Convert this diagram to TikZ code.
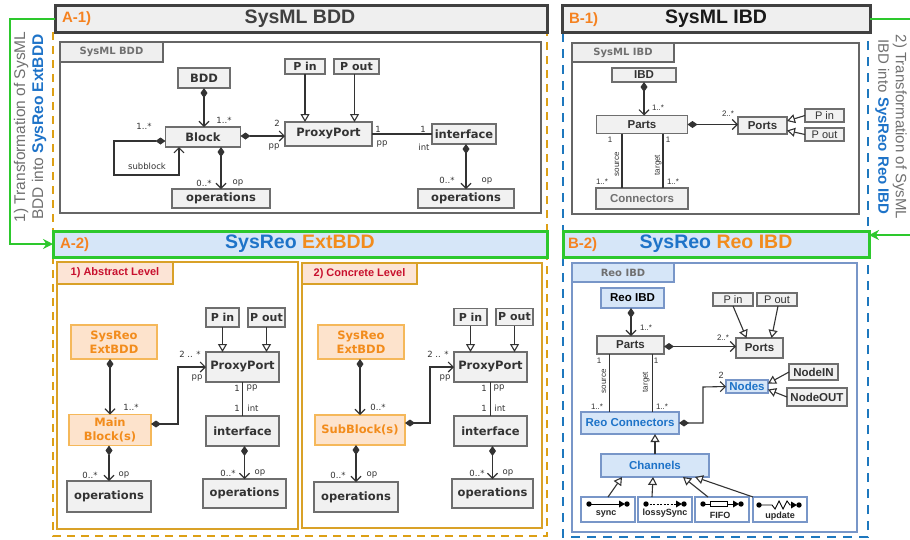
\documentclass[tikz,border=0pt]{standalone}
\usepackage{fontspec}
\setmainfont{Liberation Sans}
\newfontfamily\dv{DejaVu Sans}
\usetikzlibrary{arrows.meta}
\definecolor{orT}{HTML}{F58220}
\definecolor{blT}{HTML}{1E73C8}
\definecolor{grn}{HTML}{2DC82D}
\definecolor{hdrB}{HTML}{404040}
\definecolor{hdrF}{HTML}{EFEFEF}
\definecolor{frG}{HTML}{666666}
\definecolor{bxB}{HTML}{6E6E6E}
\definecolor{bxF}{HTML}{F1F1F1}
\definecolor{dashO}{HTML}{DDA015}
\definecolor{frO}{HTML}{D9A128}
\definecolor{dashB}{HTML}{1E78BE}
\definecolor{lb}{HTML}{D6E6F8}
\definecolor{bb}{HTML}{7896C8}
\definecolor{pF}{HTML}{FDE3CC}
\definecolor{pB}{HTML}{F5B85A}
\definecolor{oT}{HTML}{F28C1C}
\definecolor{tabP}{HTML}{FCE4D6}
\definecolor{redT}{HTML}{C8102E}
\definecolor{txt}{HTML}{333333}
\definecolor{gT}{HTML}{707070}
\begin{document}
\begin{tikzpicture}[x=1pt,y=-1pt,
  every node/.style={inner sep=0pt, outer sep=0pt},
  hdr/.style={draw=hdrB, fill=hdrF, line width=3pt},
  hdrg/.style={draw=grn, fill=lb, line width=3pt},
  frame/.style={draw=frG, line width=2.5pt},
  tabg/.style={draw=frG, fill=hdrF, line width=2.5pt, text=gT, font=\dv\bfseries\fontsize{10}{12}\selectfont},
  frameo/.style={draw=frO, line width=2.5pt},
  tabo/.style={draw=frO, fill=tabP, line width=2.5pt, text=redT, font=\bfseries\fontsize{11}{13}\selectfont},
  frameb/.style={draw=bb, line width=2.5pt},
  tabb/.style={draw=bb, fill=lb, line width=2.5pt, text=gT, font=\dv\bfseries\fontsize{10}{12}\selectfont},
  bx/.style={draw=bxB, fill=bxF, line width=1.2pt, text=txt, font=\dv\bfseries\fontsize{11.5}{14.5}\selectfont, align=center},
  bxs/.style={bx, font=\dv\bfseries\fontsize{11}{13}\selectfont},
  ob/.style={bx, draw=pB, fill=pF, text=oT},
  ib/.style={draw=bxB, fill=bxF, line width=1.2pt, text=txt, font=\bfseries\fontsize{11.5}{13}\selectfont},
  ibr/.style={ib, font=\fontsize{11}{13}\selectfont},
  ibb/.style={ib, draw=bb, fill=lb, text=blT},
  chb/.style={draw=bb, fill=white, line width=1.2pt},
  chl/.style={text=black!85, font=\bfseries\fontsize{9}{10}\selectfont},
  lab/.style={font=\dv\fontsize{8.5}{10}\selectfont, text=txt},
  labs/.style={font=\fontsize{8}{9}\selectfont, text=txt},
  ln/.style={draw=txt, line width=1.1pt},
  comp/.style={draw=txt, line width=1.1pt, {Diamond[length=10pt,width=7pt]}-{Straight Barb[length=5pt,width=10pt]}},
  gen/.style={draw=txt, line width=1.1pt, -{Triangle[open,fill=white,length=8pt,width=9pt]}},
  garrow/.style={draw=grn, line width=2pt, -{Stealth[length=10pt,width=10pt]}},
  dsho/.style={draw=dashO, line width=2.5pt, dash pattern=on 8pt off 6pt},
  dshb/.style={draw=dashB, line width=2.5pt, dash pattern=on 9pt off 7pt}
]
\useasboundingbox (0,0) rectangle (910,539);

% dashed regions
\draw[dsho] (53,32) -- (53,536) -- (547,536) -- (547,32);
\draw[dshb] (563,33) -- (563,537) -- (868,537) -- (868,33);

% ===== headers =====
\node[hdr, minimum width=492pt, minimum height=27pt] (hA1) at (301,18.5) {};
\node[anchor=west, text=orT, font=\bfseries\fontsize{15}{18}\selectfont] (lA1) at (62,19) {A-1)};
\node[text=hdrB, font=\bfseries\fontsize{19.5}{22}\selectfont] (tA1) at (300,19) {SysML BDD};

\node[hdr, minimum width=308pt, minimum height=27pt] (hB1) at (716,18.5) {};
\node[anchor=west, text=orT, font=\bfseries\fontsize{15}{18}\selectfont] (lB1) at (569,20) {B-1)};
\node[text=black!90, font=\bfseries\fontsize{19.5}{22}\selectfont] (tB1) at (716,19) {SysML IBD};

\node[hdrg, minimum width=494pt, minimum height=26pt] (hA2) at (300,244) {};
\node[anchor=west, text=orT, font=\bfseries\fontsize{15}{18}\selectfont] (lA2) at (60,244.5) {A-2)};
\node[font=\bfseries\fontsize{19.5}{22}\selectfont] (tA2) at (300,244) {\textcolor{blT}{SysReo} \textcolor{oT}{ExtBDD}};

\node[hdrg, minimum width=306pt, minimum height=26pt] (hB2) at (716,244) {};
\node[anchor=west, text=orT, font=\bfseries\fontsize{15}{18}\selectfont] (lB2) at (568,245) {B-2)};
\node[font=\bfseries\fontsize{19.5}{22}\selectfont] (tB2) at (716,244) {\textcolor{blT}{SysReo} \textcolor{oT}{Reo IBD}};

% green arrows and side texts
\draw[garrow] (hA1.west) -- (10,18.5) -- (10,244) -- (hA2.west);
\draw[garrow] (hB1.east) -- (914,18.5) -- (914,235) -- ([yshift=9pt]hB2.east);
\node[rotate=90, align=center, text=gT, font=\fontsize{15.5}{18}\selectfont] (sideA) at (30,127)
  {1) Transformation of SysML\\BDD into \textcolor{blT}{\bfseries SysReo ExtBDD}};
\node[rotate=-90, align=center, text=gT, font=\fontsize{15}{17.5}\selectfont] (sideB) at (891,127)
  {2) Transformation of SysML\\IBD into \textcolor{blT}{\bfseries SysReo Reo IBD}};

% ===== A-1 : SysML BDD =====
\node[frame, minimum width=481pt, minimum height=171pt] (frA1) at (300.5,127.5) {};
\node[tabg, minimum width=103pt, minimum height=20pt] (tabA1) at (111.5,52) {SysML BDD};

\node[bx, minimum width=52pt, minimum height=20pt] (bdd) at (204,78) {BDD};
\node[bx, minimum width=75pt, minimum height=20pt] (block) at (203,137) {Block};
\node[bx, minimum width=98pt, minimum height=19pt] (opsa) at (221,198.5) {operations};
\node[bxs, minimum width=40pt, minimum height=15pt] (pin1) at (305,66.5) {P in};
\node[bxs, minimum width=45pt, minimum height=15pt] (pout1) at (356.5,66.5) {P out};
\node[bx, minimum width=87pt, minimum height=24pt] (pp1) at (328.5,134) {ProxyPort};
\node[bx, minimum width=64pt, minimum height=20pt] (intf1) at (464,134) {interface};
\node[bx, minimum width=96pt, minimum height=19pt] (opsb) at (466,198.5) {operations};

\draw[comp] (bdd.south) -- (bdd.south |- block.north);
\draw[comp] ([yshift=1pt]block.east) -- ([yshift=1pt]block.east -| pp1.west);
\draw[comp] (opsa.north |- block.south) -- (opsa.north);
\draw[comp] ([yshift=-4pt]block.west) -| (114,175) -| ([xshift=-24pt]block.south);
\draw[gen] (pin1.south) -- (pin1.south |- pp1.north);
\draw[gen] ([xshift=-2pt]pout1.south) -- ([xshift=-2pt]pout1.south |- pp1.north);
\draw[ln] (pp1.east) -- (intf1.west);
\draw[comp] (opsb.north |- intf1.south) -- (opsb.north);

\node[lab] (l1) at (224,120) {1..*};
\node[lab] (l2) at (144,126) {1..*};
\node[lab] (l3) at (147,166) {subblock};
\node[lab] (l4) at (204,183) {0..*};
\node[lab] (l5) at (238,183) {op};
\node[lab] (l6) at (277,123) {2};
\node[lab] (l7) at (274,147) {pp};
\node[lab] (l8) at (378,129) {1};
\node[lab] (l9) at (382,144) {pp};
\node[lab] (l10) at (423,129) {1};
\node[lab] (l11) at (424,147) {int};
\node[lab] (l12) at (447,180) {0..*};
\node[lab] (l13) at (487,181) {op};

% ===== B-1 : SysML IBD =====
\node[frame, minimum width=287pt, minimum height=171pt] (frB1) at (715.5,128.5) {};
\node[tabg, minimum width=102pt, minimum height=19pt] (tabB1) at (623,52.5) {SysML IBD};

\node[ib, minimum width=64pt, minimum height=14pt] (ibd) at (644,75) {IBD};
\node[ib, minimum width=91pt, minimum height=18pt] (parts1) at (642,124.5) {Parts};
\node[ib, minimum width=49pt, minimum height=17pt] (ports1) at (762.5,125.5) {Ports};
\node[ibr, minimum width=39pt, minimum height=13pt] (pin2) at (824.5,115.5) {P in};
\node[ibr, minimum width=39pt, minimum height=13pt] (pout2) at (824.5,134.5) {P out};
\node[ib, text=gT, minimum width=92pt, minimum height=21pt] (conn1) at (642,198.5) {Connectors};

\draw[comp] (ibd.south) -- (ibd.south |- parts1.north);
\draw[comp] (parts1.east) -- (parts1.east -| ports1.west);
\draw[gen] (pin2.west) -- ([yshift=4.5pt]ports1.east);
\draw[gen] (pout2.west) -- ([yshift=-5pt]ports1.east);
\draw[ln] ([xshift=-20pt]parts1.south) -- ([xshift=-20pt]parts1.south |- conn1.north);
\draw[ln] ([xshift=21pt]parts1.south) -- ([xshift=21pt]parts1.south |- conn1.north);

\node[labs] (m1) at (658,108) {1..*};
\node[labs] (m2) at (728,114) {2..*};
\node[labs] (m3) at (610,140) {1};
\node[labs] (m4) at (668,140) {1};
\node[labs] (m5) at (602,182) {1..*};
\node[labs] (m6) at (673,182) {1..*};
\node[labs, rotate=90] (m7) at (617,164) {source};
\node[labs, rotate=90] (m8) at (658,165) {target};

% ===== A-2 : Abstract level =====
\node[frameo, minimum width=241pt, minimum height=267pt] (frAbs) at (177.5,395.5) {};
\node[tabo, minimum width=116pt, minimum height=22pt] (tabAbs) at (115,273) {1) Abstract Level};

\node[bxs, minimum width=33pt, minimum height=19pt] (pina) at (222.5,317.5) {P in};
\node[bxs, minimum width=37pt, minimum height=19pt] (pouta) at (266.5,317.5) {P out};
\node[bx, minimum width=73pt, minimum height=30pt] (ppa) at (242.5,367) {ProxyPort};
\node[ob, minimum width=86pt, minimum height=34pt] (exta) at (114,342) {SysReo\\ExtBDD};
\node[ob, minimum width=82pt, minimum height=31pt] (maina) at (110,430) {Main\\Block(s)};
\node[bx, minimum width=84pt, minimum height=31pt] (opsa2) at (109,496.5) {operations};
\node[bx, minimum width=73pt, minimum height=30pt] (intfa) at (242.5,431) {interface};
\node[bx, minimum width=83pt, minimum height=29pt] (opsa3) at (244.5,493.5) {operations};

\draw[comp] (exta.south -| maina.north) -- (maina.north);
\draw[comp] ([yshift=6pt]maina.east) -| (178,367) -- (ppa.west);
\draw[comp] (opsa2.north |- maina.south) -- (opsa2.north);
\draw[ln] (ppa.south) -- (intfa.north);
\draw[comp] (opsa3.north |- intfa.south) -- (opsa3.north);
\draw[gen] (pina.south) -- (pina.south |- ppa.north);
\draw[gen] (pouta.south) -- (pouta.south |- ppa.north);

\node[lab] (a1) at (131,407) {1..*};
\node[lab] (a2) at (190,354) {2 .. *};
\node[lab] (a3) at (197,378) {pp};
\node[lab] (a4) at (237,388) {1};
\node[lab] (a5) at (252,388) {pp};
\node[lab] (a6) at (237,408) {1};
\node[lab] (a7) at (253,408) {int};
\node[lab] (a8) at (90,475) {0..*};
\node[lab] (a9) at (124,475) {op};
\node[lab] (a10) at (228,473) {0..*};
\node[lab] (a11) at (260,473) {op};

% ===== A-2 : Concrete level =====
\node[frameo, minimum width=240pt, minimum height=265pt] (frCon) at (422,395.5) {};
\node[tabo, minimum width=115pt, minimum height=21pt] (tabCon) at (359.5,273.5) {2) Concrete Level};

\node[bxs, minimum width=33pt, minimum height=17pt] (pinc) at (470.5,317) {P in};
\node[bxs, minimum width=37pt, minimum height=17pt] (poutc) at (514.5,317) {P out};
\node[bx, minimum width=73pt, minimum height=30pt] (ppc) at (490.5,367) {ProxyPort};
\node[ob, minimum width=86pt, minimum height=34pt] (extc) at (361,342) {SysReo\\ExtBDD};
\node[ob, minimum width=90pt, minimum height=30pt] (subc) at (360,430) {SubBlock(s)};
\node[bx, minimum width=84pt, minimum height=30pt] (opsc) at (356,497) {operations};
\node[bx, minimum width=73pt, minimum height=30pt] (intfc) at (490.5,431) {interface};
\node[bx, minimum width=81pt, minimum height=29pt] (opsc2) at (492.5,493.5) {operations};

\draw[comp] (extc.south -| subc.north) -- (subc.north);
\draw[comp] ([yshift=7pt]subc.east) -| (430,367) -- (ppc.west);
\draw[comp] (opsc.north |- subc.south) -- (opsc.north);
\draw[ln] (ppc.south) -- (intfc.north);
\draw[comp] (opsc2.north |- intfc.south) -- (opsc2.north);
\draw[gen] (pinc.south) -- (pinc.south |- ppc.north);
\draw[gen] (poutc.south) -- (poutc.south |- ppc.north);

\node[lab] (c1) at (378,407) {0..*};
\node[lab] (c2) at (438,354) {2 .. *};
\node[lab] (c3) at (445,378) {pp};
\node[lab] (c4) at (484,388) {1};
\node[lab] (c5) at (499,388) {pp};
\node[lab] (c6) at (484,408) {1};
\node[lab] (c7) at (500,408) {int};
\node[lab] (c8) at (338,475) {0..*};
\node[lab] (c9) at (372,475) {op};
\node[lab] (c10) at (477,473) {0..*};
\node[lab] (c11) at (508,473) {op};

% ===== B-2 : Reo IBD =====
\node[frameb, minimum width=285pt, minimum height=269pt] (frB2) at (714.5,397.5) {};
\node[tabb, minimum width=102pt, minimum height=19pt] (tabB2) at (623,272.5) {Reo IBD};

\node[ibb, text=black, minimum width=63pt, minimum height=20pt] (reoibd) at (632.5,298) {Reo IBD};
\node[ibr, minimum width=40pt, minimum height=13pt] (pin3) at (733,299.5) {P in};
\node[ibr, minimum width=40pt, minimum height=13pt] (pout3) at (777,299.5) {P out};
\node[ib, minimum width=67pt, minimum height=18pt] (parts2) at (630.5,345) {Parts};
\node[ib, minimum width=47pt, minimum height=20pt] (ports2) at (759.5,348) {Ports};
\node[ibb, minimum width=42pt, minimum height=13pt] (nodes) at (747,386.5) {Nodes};
\node[ib, minimum width=49pt, minimum height=16pt] (nodein) at (813.5,372) {NodeIN};
\node[ib, minimum width=60pt, minimum height=18pt] (nodeout) at (817,397) {NodeOUT};
\node[ibb, minimum width=98pt, minimum height=22pt] (reoconn) at (630,423) {Reo Connectors};
\node[ibb, minimum width=108pt, minimum height=23pt] (chan) at (655,465.5) {Channels};

\node[chb, minimum width=54pt, minimum height=25pt] (sy) at (608,509.5) {};
\node[chb, minimum width=54pt, minimum height=25pt] (ls) at (665,509.5) {};
\node[chb, minimum width=54pt, minimum height=25pt] (ff) at (722,509.5) {};
\node[chb, minimum width=54pt, minimum height=25pt] (up) at (780,509.5) {};
\node[chl] (syl) at (606,513.5) {sync};
\node[chl] (lsl) at (665,513.5) {lossySync};
\node[chl] (ffl) at (720,515) {FIFO};
\node[chl] (upl) at (780,516) {update};

% channel icons
\begin{scope}[black]
  % sync
  \fill (589,504) circle[radius=2.7pt];
  \draw[line width=1pt] (589,504) -- (620,504);
  \fill (619,500.5) -- (625,504) -- (619,507.5) -- cycle;
  \fill (627,504) circle[radius=2.7pt];
  % lossySync
  \fill (646,504) circle[radius=2.7pt];
  \draw[line width=0.8pt, dash pattern=on 2pt off 1.5pt] (646,504) -- (676,504);
  \fill (676,500.5) -- (682,504) -- (676,507.5) -- cycle;
  \fill (684,504) circle[radius=2.7pt];
  % FIFO
  \fill (703,504) circle[radius=2.7pt];
  \draw[line width=1pt] (703,504) -- (710,504);
  \draw[line width=0.9pt] (710,501.5) rectangle (727,506.5);
  \draw[line width=1pt] (727,504) -- (733,504);
  \fill (733,500.5) -- (739,504) -- (733,507.5) -- cycle;
  \fill (741,504) circle[radius=2.7pt];
  % update
  \fill (759,505) circle[radius=2.7pt];
  \draw[line width=0.9pt] (759,505) -- (772,505) -- (775,509) -- (779,501) -- (783,509) -- (787,501) -- (790,505) -- (792,505);
  \fill (791,501.5) -- (797,505) -- (791,508.5) -- cycle;
  \fill (799,505) circle[radius=2.7pt];
\end{scope}

\draw[comp] (reoibd.south -| 631,0) -- (631,0 |- parts2.north);
\draw[comp] ([yshift=-1.5pt]parts2.east) -- ([yshift=-1.5pt]parts2.east -| ports2.west);
\draw[gen] (pin3.south) -- ([xshift=-13pt]ports2.north);
\draw[gen] ([xshift=1pt]pout3.south) -- ([xshift=12pt]ports2.north);
\draw[ln] ([xshift=-21pt]parts2.south) -- ([xshift=-21pt]parts2.south |- reoconn.north);
\draw[ln] ([xshift=22pt]parts2.south) -- ([xshift=22pt]parts2.south |- reoconn.north);
\draw[comp] (reoconn.east) -| (703,387) -- (nodes.west);
\draw[gen] (nodein.west) -- ([yshift=3pt]nodes.east);
\draw[gen] (nodeout.west) -- ([yshift=-3pt]nodes.east);
\draw[gen] (chan.north) -- (chan.north |- reoconn.south);
\draw[gen] (sy.north) -- ([xshift=-33pt]chan.south);
\draw[gen] ([xshift=-13pt]ls.north) -- ([xshift=-2pt]chan.south);
\draw[gen] ([xshift=-14pt]ff.north) -- ([xshift=28pt]chan.south);
\draw[gen] (up.north west) -- ([xshift=40pt]chan.south);

\node[labs] (r1) at (646,328) {1..*};
\node[labs] (r2) at (723,338) {2..*};
\node[labs] (r3) at (599,361) {1};
\node[labs] (r4) at (656,361) {1};
\node[labs] (r5) at (597,407) {1..*};
\node[labs] (r6) at (662,407) {1..*};
\node[labs, rotate=90] (r7) at (604,381) {source};
\node[labs, rotate=90] (r8) at (646,382) {target};
\node[labs, font=\fontsize{9}{10}\selectfont] (r9) at (721,375) {2};
\end{tikzpicture}
\end{document}
